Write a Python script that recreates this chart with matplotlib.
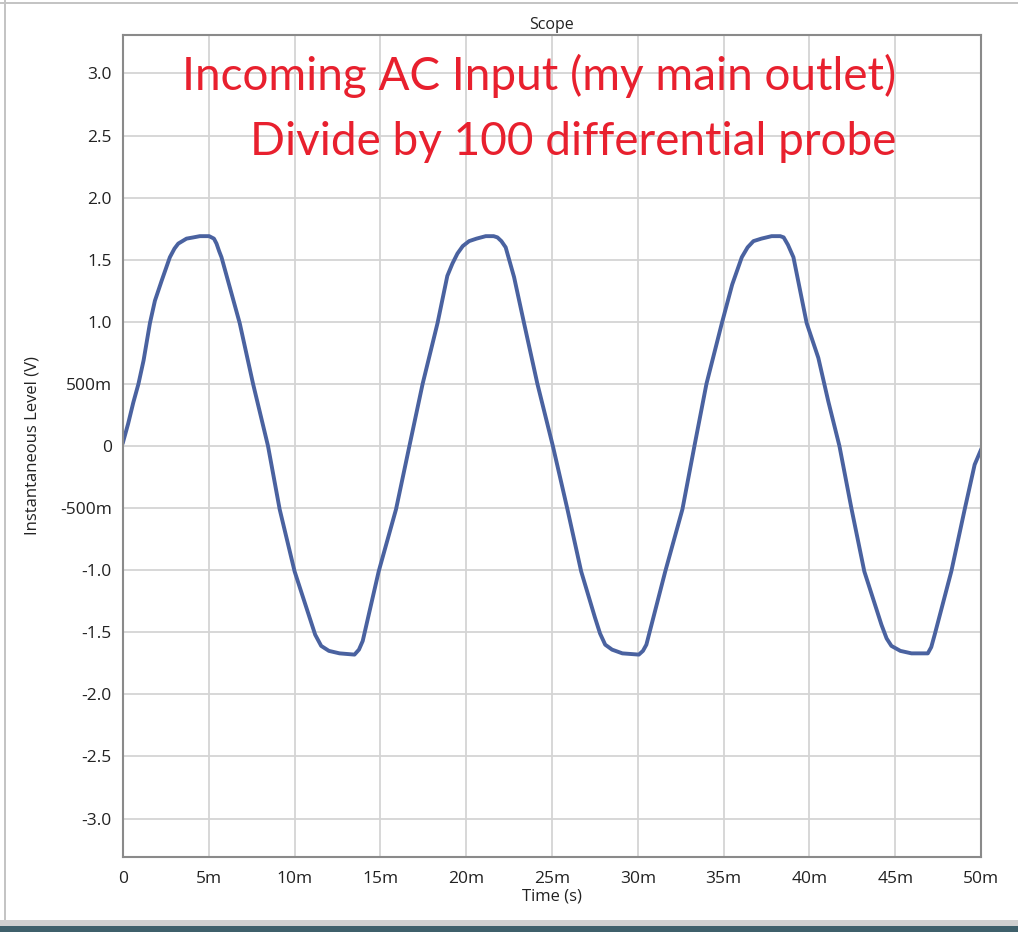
import matplotlib.pyplot as plt
from matplotlib.patches import Rectangle
from matplotlib.ticker import FixedLocator, FixedFormatter

# time in ms, level in V
time_ms = [
    0.0, 0.3, 0.6, 0.9, 1.2, 1.57, 1.86, 2.25, 2.73, 3.0, 3.22, 3.7, 4.1, 4.48,
    5.02, 5.3, 5.45, 5.6, 5.74, 6.22, 6.8, 7.58, 8.45, 9.13, 10.0, 10.87, 11.2,
    11.55, 12.0, 12.62, 13.49, 13.75, 13.97, 14.9, 15.91, 16.69, 17.46, 18.33,
    18.9, 19.2, 19.49, 19.8, 20.17, 20.6, 21.14, 21.6, 21.82, 22.05, 22.3,
    22.79, 23.37, 24.15, 25.05, 25.9, 26.7, 27.5, 27.8, 28.1, 28.5, 29.1,
    30.06, 30.3, 30.5, 31.6, 32.6, 33.3, 34.0, 34.9, 35.5, 36.06, 36.4, 36.74,
    37.2, 37.8, 38.3, 38.5, 38.75, 39.07, 39.84, 40.52, 41.1, 41.75, 42.46,
    43.2, 44.2, 44.5, 44.78, 45.3, 45.95, 46.9, 47.1, 47.3, 48.27, 49.05,
    49.63, 50.0,
]
level_v = [
    0.03, 0.18, 0.35, 0.50, 0.69, 0.99, 1.17, 1.33, 1.52, 1.59, 1.63, 1.67,
    1.68, 1.69, 1.69, 1.67, 1.63, 1.57, 1.52, 1.28, 0.99, 0.50, 0.0, -0.51,
    -1.01, -1.38, -1.52, -1.61, -1.65, -1.67, -1.68, -1.64, -1.57, -1.01,
    -0.51, 0.0, 0.50, 0.99, 1.37, 1.47, 1.55, 1.61, 1.65, 1.67, 1.69, 1.69,
    1.68, 1.65, 1.60, 1.36, 0.99, 0.50, 0.0, -0.51, -1.01, -1.38, -1.51,
    -1.60, -1.64, -1.67, -1.68, -1.65, -1.60, -1.01, -0.51, 0.0, 0.50, 0.99,
    1.30, 1.52, 1.60, 1.65, 1.67, 1.69, 1.69, 1.68, 1.62, 1.52, 0.99, 0.71,
    0.36, 0.0, -0.51, -1.01, -1.44, -1.55, -1.61, -1.65, -1.67, -1.67, -1.62,
    -1.52, -1.01, -0.51, -0.15, -0.03,
]

x_ticks = [0, 5, 10, 15, 20, 25, 30, 35, 40, 45, 50]
x_labels = ["0", "5m", "10m", "15m", "20m", "25m", "30m", "35m", "40m", "45m", "50m"]
y_ticks = [3.0, 2.5, 2.0, 1.5, 1.0, 0.5, 0.0, -0.5, -1.0, -1.5, -2.0, -2.5, -3.0]
y_labels = ["3.0", "2.5", "2.0", "1.5", "1.0", "500m", "0", "-500m", "-1.0",
            "-1.5", "-2.0", "-2.5", "-3.0"]

plt.rcParams["font.family"] = ["Open Sans", "DejaVu Sans"]

fig = plt.figure(figsize=(10.18, 9.32), dpi=100)
W, H = 1018, 932

# window chrome
fig.add_artist(Rectangle((0, 1 - 4 / H), 1, 2 / H, transform=fig.transFigure,
                         color="#c4c4c4", lw=0))
fig.add_artist(Rectangle((4 / W, 0), 2 / W, 1, transform=fig.transFigure,
                         color="#c4c4c4", lw=0))
fig.add_artist(Rectangle((0, 6 / H), 1, 6 / H, transform=fig.transFigure,
                         color="#d0d0d0", lw=0))
fig.add_artist(Rectangle((0, 0), 1, 6 / H, transform=fig.transFigure,
                         color="#3f606b", lw=0))

ax = fig.add_axes([123 / W, 1 - 857 / H, (981 - 123) / W, (857 - 35) / H])
ax.plot(time_ms, level_v, color="#4a62a0", lw=2.8, solid_joinstyle="round")

ax.set_xlim(0, 50)
ax.set_ylim(-3.31, 3.31)
ax.xaxis.set_major_locator(FixedLocator(x_ticks))
ax.xaxis.set_major_formatter(FixedFormatter(x_labels))
ax.yaxis.set_major_locator(FixedLocator(y_ticks))
ax.yaxis.set_major_formatter(FixedFormatter(y_labels))
ax.tick_params(length=0, labelsize=12.5, colors="#222222")
ax.tick_params(axis="x", pad=10)
ax.tick_params(axis="y", pad=8)
ax.grid(True, color="#d4d4d4", lw=1.3)
ax.set_axisbelow(True)
for s in ax.spines.values():
    s.set_color("#8a8a8a")
    s.set_linewidth(1.5)

ax.set_xlabel("Time (s)", fontsize=12, color="#222222", labelpad=1)
ax.set_ylabel("Instantaneous Level (V)", fontsize=12, color="#222222", labelpad=14)
ax.set_title("Scope", fontsize=11.5, color="#222222", pad=4)

ax.text(896 / W, 1 - 90 / H, "Incoming AC Input (my main outlet)",
        transform=fig.transFigure, ha="right", va="baseline",
        fontsize=33, color="#e8202e", family=["Lato", "DejaVu Sans"])
ax.text(896 / W, 1 - 155 / H, "Divide by 100 differential probe",
        transform=fig.transFigure, ha="right", va="baseline",
        fontsize=33, color="#e8202e", family=["Lato", "DejaVu Sans"])

fig.savefig("out.png", dpi=100)
